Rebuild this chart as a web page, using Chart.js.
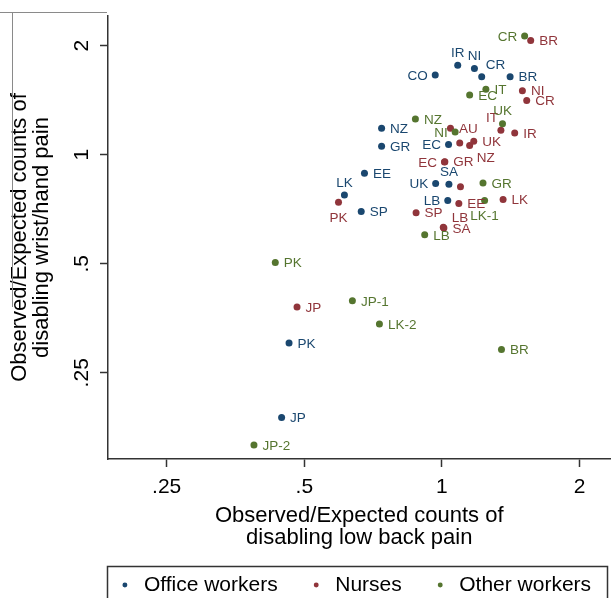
<!DOCTYPE html>
<html>
<head>
<meta charset="utf-8">
<script src="https://cdn.jsdelivr.net/npm/chart.js@4.4.1/dist/chart.umd.min.js"></script>
<style>
html,body{margin:0;padding:0;background:#ffffff;}
#wrap{width:614px;height:598px;overflow:hidden;}
</style>
</head>
<body>
<div id="wrap"><canvas id="c" width="614" height="598"></canvas></div>
<script>
// ---------- data ----------
const seriesNames = ['Office workers', 'Nurses', 'Other workers'];

const officeLabels = ['IR','NI','CR','BR','CO','NZ','GR','EC','EE','LK','SP','UK','SA','LB','PK','JP'];
const officeX = [1.083,1.178,1.222,1.410,0.967,0.738,0.738,1.034,0.677,0.612,0.666,0.969,1.036,1.030,0.463,0.446];
const officeY = [1.767,1.730,1.642,1.642,1.659,1.183,1.056,1.067,0.889,0.774,0.697,0.833,0.829,0.747,0.302,0.188];

const nurseLabels = ['BR','NI','CR','IT','IR','AU','','NZ','UK','EC','GR','','EE','LK','PK','SP','LB','SA','JP'];
const nurseX = [1.564,1.500,1.533,1.346,1.443,1.044,1.094,1.150,1.174,1.013,1.015,1.098,1.089,1.361,0.594,0.878,1.007,1.010,0.482];
const nurseY = [2.068,1.503,1.412,1.168,1.149,1.183,1.078,1.061,1.090,0.955,0.957,0.816,0.734,0.752,0.739,0.692,0.631,0.628,0.380];

const otherLabels = ['CR','IT','EC','UK','NZ','NI','GR','LK-1','LB','PK','JP-1','LK-2','BR','JP-2'];
const otherX = [1.517,1.248,1.150,1.357,0.875,1.069,1.230,1.240,0.917,0.432,0.637,0.730,1.350,0.388];
const otherY = [2.126,1.516,1.462,1.218,1.255,1.156,0.835,0.747,0.601,0.504,0.395,0.341,0.290,0.158];

const xTickValues = [0.25, 0.5, 1, 2];
const xTickLabels = ['.25', '.5', '1', '2'];
const yTickValues = [0.25, 0.5, 1, 2];
const yTickLabels = ['.25', '.5', '1', '2'];

// ---------- styling ----------
const FONT = '"Liberation Sans", Arial, Helvetica, sans-serif';
const BLUE = '#1a476f', RED = '#90353b', GREEN = '#55752f';
// label placement (clock position) per point, styling only
const officeLabelPos = [12,12,1,3,9,3,3,9,3,12,3,9,12,9,3,3];
const nurseLabelPos  = [3,3,3,11,3,3,3,4,3,9,3,3,3,3,6,3,2,3,3];
const otherLabelPos  = [9,3,3,12,3,9,3,6,3,3,3,3,3,3];
const OFFS = {
  3:  {dx: 8.5, dy: 1,   align: 'left'},
  9:  {dx: -7.5, dy: 1,  align: 'right'},
  12: {dx: 0,   dy: -12, align: 'center'},
  6:  {dx: 0,   dy: 16,  align: 'center'},
  1:  {dx: 4,   dy: -11.5, align: 'left'},
  11: {dx: -3,  dy: -12, align: 'right'},
  4:  {dx: 7,   dy: 12.5, align: 'left'},
  2:  {dx: 8.5, dy: -9,  align: 'left'}
};

function pts(xs, ys) { return xs.map((x, i) => ({x: x, y: ys[i]})); }

const pointLabelPlugin = {
  id: 'pointLabels',
  afterDatasetsDraw(chart) {
    const ctx = chart.ctx;
    ctx.save();
    ctx.font = '13.5px ' + FONT;
    ctx.textBaseline = 'middle';
    chart.data.datasets.forEach((ds, di) => {
      const meta = chart.getDatasetMeta(di);
      ctx.fillStyle = ds.labelColor;
      meta.data.forEach((el, i) => {
        const txt = ds.pointNames[i];
        if (!txt) return;
        const o = OFFS[ds.labelPos[i]] || OFFS[3];
        ctx.textAlign = o.align;
        ctx.fillText(txt, el.x + o.dx, el.y + o.dy);
      });
    });
    ctx.restore();
  }
};

// shift the legend row so it is centred under the framed box
const legendShiftPlugin = {
  id: 'legendShift',
  afterLayout(chart) {
    const L = chart.legend;
    if (!L) return;
    L.left += 46.75;
    L.right += 46.75;
  }
};

const framePlugin = {
  id: 'frames',
  afterDraw(chart) {
    const ctx = chart.ctx;
    ctx.save();
    // legend frame
    ctx.strokeStyle = '#333333';
    ctx.lineWidth = 1.5;
    ctx.strokeRect(107.5, 566.5, 500, 60);
    // faint page-edge lines seen at top-left of the original figure
    ctx.strokeStyle = '#8a8a8a';
    ctx.lineWidth = 1;
    ctx.beginPath();
    ctx.moveTo(0, 12.5); ctx.lineTo(107, 12.5);
    ctx.moveTo(12.5, 12.5); ctx.lineTo(12.5, 307);
    ctx.stroke();
    ctx.restore();
  }
};

const axisGrid = { display: true, drawOnChartArea: false, drawTicks: true, tickLength: 8, tickWidth: 1.5, tickColor: '#333333' };
const axisBorder = { display: true, color: '#333333', width: 1.5 };

new Chart(document.getElementById('c').getContext('2d'), {
  type: 'scatter',
  data: {
    datasets: [
      { label: seriesNames[0], data: pts(officeX, officeY), backgroundColor: BLUE, borderWidth: 0,
        pointRadius: 3.5, pointHoverRadius: 3.5, order: 3,
        pointNames: officeLabels, labelPos: officeLabelPos, labelColor: BLUE },
      { label: seriesNames[1], data: pts(nurseX, nurseY), backgroundColor: RED, borderWidth: 0,
        pointRadius: 3.5, pointHoverRadius: 3.5, order: 2,
        pointNames: nurseLabels, labelPos: nurseLabelPos, labelColor: RED },
      { label: seriesNames[2], data: pts(otherX, otherY), backgroundColor: GREEN, borderWidth: 0,
        pointRadius: 3.5, pointHoverRadius: 3.5, order: 1,
        pointNames: otherLabels, labelPos: otherLabelPos, labelColor: GREEN }
    ]
  },
  options: {
    responsive: false,
    animation: false,
    devicePixelRatio: 1,
    layout: { padding: { top: 12, left: 0, right: 0, bottom: 0 } },
    plugins: {
      tooltip: { enabled: false },
      legend: {
        position: 'bottom',
        fullSize: true,
        maxHeight: 53.5,
        align: 'center',
        labels: {
          usePointStyle: true, pointStyle: 'circle',
          boxWidth: 17, boxHeight: 3.5, padding: 30,
          color: '#000000',
          font: { size: 21, family: FONT },
          sort: (a, b) => a.datasetIndex - b.datasetIndex
        }
      }
    },
    scales: {
      x: {
        type: 'logarithmic', position: 'bottom', bounds: 'data',
        min: 0.186, max: 2.338,
        afterBuildTicks: (s) => { s.ticks = xTickValues.map(v => ({ value: v })); },
        afterFit: (s) => { s.height = 85.5; },
        ticks: {
          autoSkip: false, maxRotation: 0, minRotation: 0, padding: 7.4,
          color: '#000000', font: { size: 21, family: FONT, lineHeight: 1.2 },
          callback: (v) => xTickLabels[xTickValues.indexOf(v)]
        },
        grid: axisGrid,
        border: axisBorder,
        title: {
          display: true,
          text: ['Observed/Expected counts of', 'disabling low back pain'],
          color: '#000000',
          font: { size: 22, family: FONT, lineHeight: 1 },
          padding: { top: 0, bottom: -4.5 }
        }
      },
      y: {
        type: 'logarithmic', position: 'left', bounds: 'data',
        min: 0.1445, max: 2.416,
        afterBuildTicks: (s) => { s.ticks = yTickValues.map(v => ({ value: v })); },
        afterFit: (s) => { s.width = 108; },
        ticks: {
          autoSkip: false, minRotation: 90, maxRotation: 90, crossAlign: 'center', padding: 3.4,
          color: '#000000', font: { size: 21, family: FONT },
          callback: (v) => yTickLabels[yTickValues.indexOf(v)]
        },
        grid: axisGrid,
        border: axisBorder,
        title: {
          display: true,
          text: ['Observed/Expected counts of', 'disabling wrist/hand pain'],
          color: '#000000',
          font: { size: 22, family: FONT, lineHeight: 1 },
          padding: { top: 9, bottom: 0 }
        }
      }
    }
  },
  plugins: [pointLabelPlugin, legendShiftPlugin, framePlugin]
});
</script>
</body>
</html>
